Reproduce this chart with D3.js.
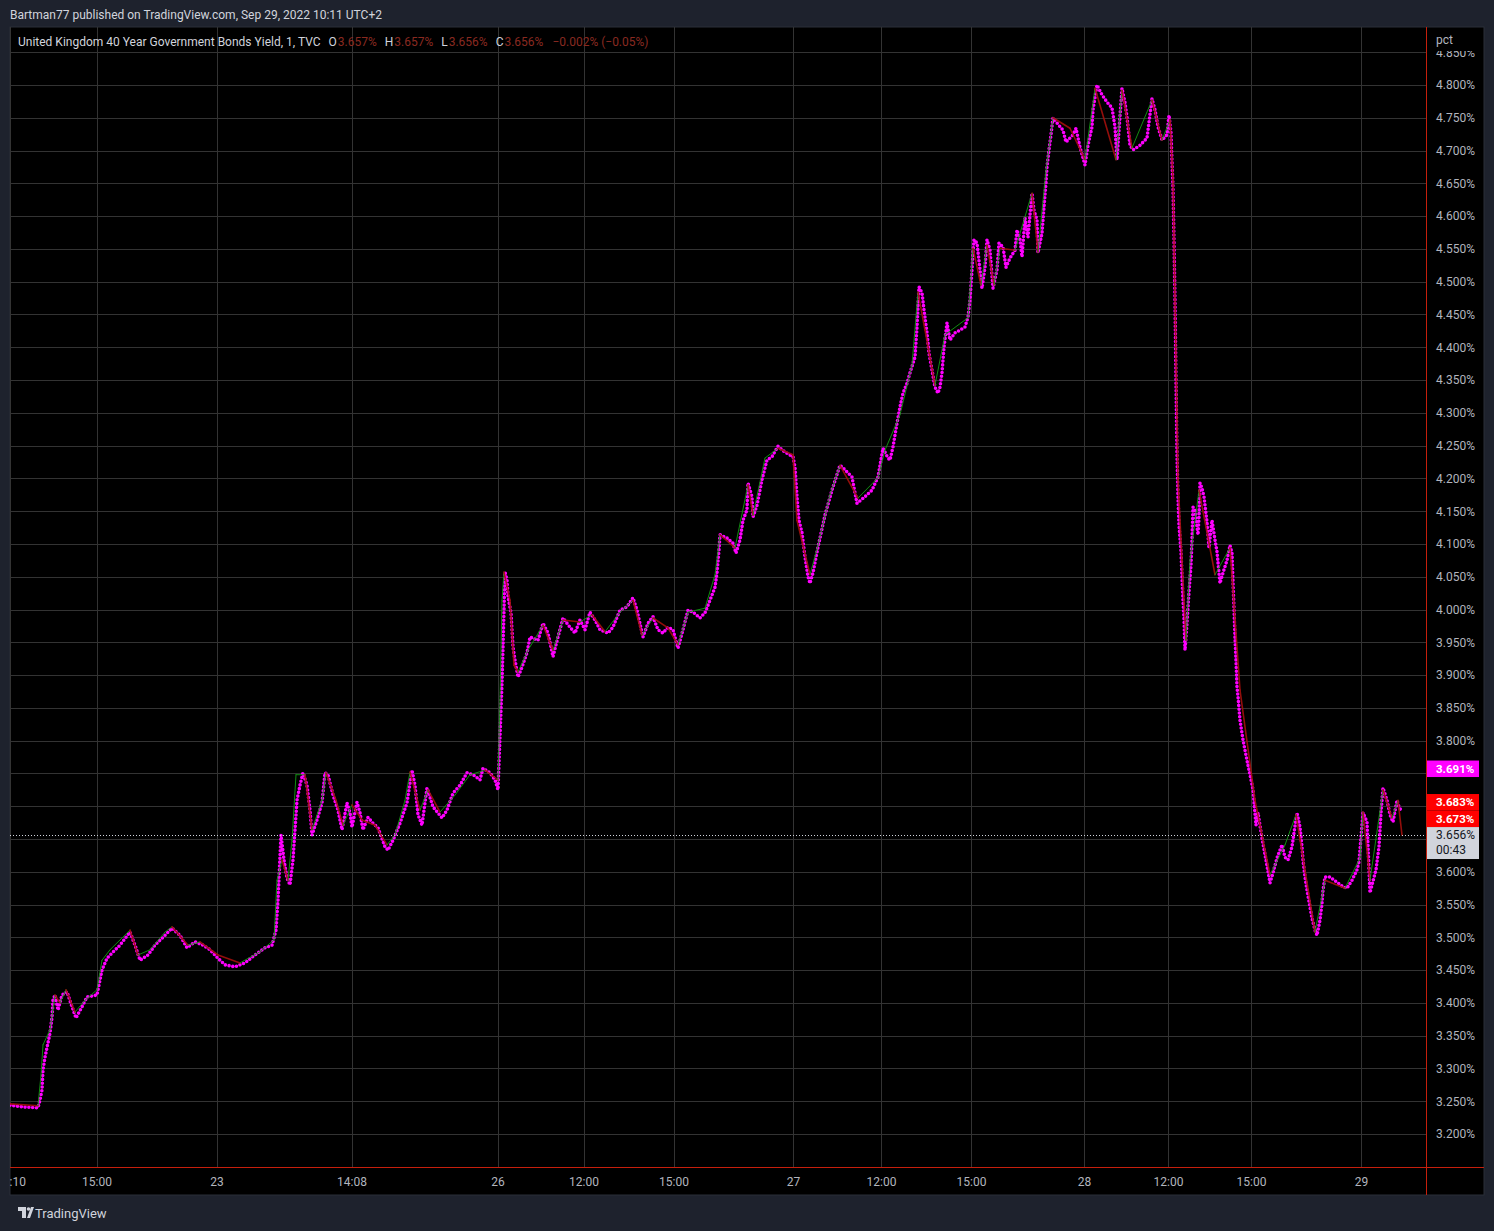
<!DOCTYPE html>
<html><head><meta charset="utf-8">
<script src="https://cdn.jsdelivr.net/npm/d3@7"></script>
<style>
html,body{margin:0;padding:0;background:#1e222d;}
svg{display:block;font-family:Roboto,"Liberation Sans",sans-serif;}
</style></head>
<body><svg id="chart" width="1494" height="1231"></svg>
<script>
// ---- data (minutes of trading time since Sep 22 12:10, yield in %) ----
const xTickMinutes = [0,173,413,683,975,1147,1327,1566,1742,1922,2148,2316,2482,2702];
const xTickLabels = [":10","15:00","23","14:08","26","12:00","15:00","27","12:00","15:00","28","12:00","15:00","29"];
const yTickValues = [3.20,3.25,3.30,3.35,3.40,3.45,3.50,3.55,3.60,3.65,3.70,3.75,3.80,3.85,3.90,3.95,4.00,4.05,4.10,4.15,4.20,4.25,4.30,4.35,4.40,4.45,4.50,4.55,4.60,4.65,4.70,4.75,4.80,4.85];

// magenta dotted indicator (parabolic-SAR-like dots)
const sarSeries = [
[0,3.244],[30,3.241],[56,3.240],[60,3.252],[64,3.267],[66,3.298],[70,3.317],[76,3.339],[80,3.354],[84,3.378],
[86,3.404],[90,3.412],[96,3.389],[104,3.412],[114,3.417],[124,3.394],[132,3.377],[144,3.394],[154,3.409],[174,3.412],
[184,3.450],[194,3.468],[204,3.476],[220,3.488],[240,3.508],[250,3.488],[260,3.465],[276,3.473],[290,3.488],[310,3.503],
[324,3.514],[340,3.503],[354,3.484],[370,3.493],[386,3.488],[400,3.481],[416,3.468],[430,3.458],[450,3.455],[470,3.461],
[490,3.473],[510,3.484],[524,3.488],[532,3.511],
[536,3.557],[542,3.656],[548,3.618],[554,3.590],[560,3.580],[566,3.618],[570,3.664],[574,3.709],[580,3.732],[586,3.751],
[594,3.732],[600,3.694],[604,3.656],[614,3.679],[624,3.705],[630,3.751],[636,3.748],[646,3.717],[656,3.694],[664,3.664],
[674,3.705],[680,3.690],[684,3.668],[694,3.706],[700,3.690],[706,3.664],[716,3.683],[726,3.674],[736,3.667],[750,3.638],
[756,3.633],[766,3.648],[780,3.674],[794,3.705],[804,3.755],[810,3.732],[816,3.687],[824,3.671],[834,3.728],[846,3.699],
[864,3.682],[874,3.694],[886,3.720],[900,3.732],[914,3.751],[926,3.748],[940,3.740],[946,3.758],[960,3.751],[970,3.740],
[976,3.725],
[984,3.888],[986,3.943],[988,3.999],[990,4.057],[994,4.045],[996,4.019],[1002,3.995],[1006,3.943],[1010,3.923],[1016,3.897],
[1024,3.912],[1034,3.934],[1040,3.958],[1056,3.953],[1066,3.979],[1076,3.964],[1086,3.928],[1096,3.958],[1106,3.987],[1120,3.973],
[1130,3.964],[1140,3.984],[1150,3.969],[1160,3.996],[1170,3.984],[1180,3.969],[1196,3.964],[1206,3.973],[1220,3.999],[1234,4.004],
[1246,4.018],[1254,3.999],[1266,3.958],[1276,3.979],[1286,3.989],[1296,3.969],[1306,3.964],[1316,3.973],[1326,3.969],[1336,3.941],
[1346,3.969],[1356,3.999],[1366,3.996],[1380,3.987],[1390,3.995],[1400,4.014],[1410,4.034],[1414,4.056],[1418,4.091],[1420,4.114],
[1434,4.109],[1446,4.101],[1452,4.086],[1460,4.106],[1466,4.136],[1474,4.152],[1476,4.193],[1484,4.172],[1486,4.141],[1494,4.159],
[1504,4.198],[1514,4.228],[1524,4.233],[1536,4.249],[1550,4.240],[1566,4.233],[1570,4.217],[1574,4.172],[1578,4.136],[1584,4.117],
[1590,4.080],[1596,4.050],[1600,4.040],[1606,4.056],[1616,4.095],
[1630,4.144],[1644,4.182],[1660,4.220],[1670,4.213],[1684,4.202],[1694,4.162],[1710,4.172],[1724,4.182],[1736,4.202],[1746,4.246],
[1756,4.231],[1760,4.228],[1766,4.248],[1774,4.284],[1780,4.309],[1786,4.330],[1794,4.345],[1800,4.361],[1810,4.385],[1814,4.431],
[1816,4.461],[1818,4.492],[1824,4.483],[1828,4.457],[1834,4.422],[1838,4.391],[1844,4.365],[1850,4.339],[1856,4.330],[1860,4.339],
[1864,4.361],[1868,4.400],[1874,4.437],[1880,4.411],[1890,4.422],[1900,4.426],[1910,4.431],[1916,4.446],[1920,4.472],[1924,4.518],
[1926,4.544],[1928,4.564],[1934,4.559],[1940,4.518],[1944,4.490],[1950,4.522],[1954,4.564],[1960,4.548],[1966,4.490],[1974,4.518],
[1978,4.559],[1986,4.553],[1992,4.522],[2000,4.536],[2010,4.548],[2014,4.579],[2020,4.564],[2024,4.538],[2030,4.597],[2036,4.568],
[2044,4.635],[2048,4.609],[2054,4.594],[2056,4.544],[2064,4.574],[2068,4.614],[2072,4.651],[2074,4.675],[2078,4.701],[2082,4.724],
[2086,4.750],
[2094,4.742],[2106,4.731],[2112,4.713],[2126,4.724],[2132,4.734],[2140,4.705],[2150,4.678],[2156,4.708],[2164,4.736],[2166,4.762],
[2174,4.800],[2184,4.785],[2194,4.774],[2204,4.765],[2210,4.736],[2214,4.686],[2218,4.731],[2224,4.795],[2230,4.773],[2234,4.751],
[2240,4.708],[2246,4.701],[2260,4.708],[2274,4.719],[2284,4.779],[2290,4.762],[2296,4.736],[2304,4.716],[2314,4.724],[2318,4.754],
[2322,4.727],[2324,4.683],[2326,4.643],[2328,4.564],[2330,4.472],[2332,4.350],[2334,4.236],
[2336,4.172],[2338,4.129],[2342,4.088],[2344,4.050],[2346,4.014],[2348,3.987],[2350,3.938],[2354,3.979],[2358,4.027],[2362,4.068],
[2364,4.106],[2366,4.156],[2370,4.152],[2374,4.126],[2376,4.114],[2378,4.141],[2380,4.193],[2384,4.185],[2388,4.172],[2394,4.133],
[2398,4.094],[2404,4.136],[2410,4.106],[2414,4.088],[2420,4.040],[2426,4.056],[2434,4.075],[2440,4.098],[2444,4.086],[2446,4.042],
[2448,4.002],[2450,3.957],[2452,3.923],[2454,3.882],[2456,3.867],[2460,3.831],[2466,3.801],[2474,3.770],[2480,3.748],[2486,3.725],
[2492,3.671],[2496,3.690],[2504,3.651],[2512,3.618],[2520,3.583],[2526,3.598],[2534,3.621],[2544,3.641],[2550,3.622],[2556,3.618],
[2564,3.638],[2568,3.659],[2574,3.690],[2580,3.668],[2584,3.638],[2586,3.618],[2590,3.592],[2594,3.572],[2600,3.546],[2604,3.529],
[2610,3.511],[2614,3.503],[2620,3.526],[2624,3.552],[2626,3.572],[2630,3.592],[2640,3.592],[2654,3.584],[2666,3.577],[2674,3.575],
[2684,3.587],[2694,3.603],[2698,3.615],[2706,3.690],[2714,3.676],[2720,3.568],[2732,3.603],[2738,3.638],[2742,3.690],[2746,3.728],
[2754,3.709],[2760,3.687],[2766,3.676],[2774,3.709],[2778,3.699],[2784,3.691]
];

// price path (1-minute closes, key turning points)
const priceSeries = [
[0,3.246],[56,3.243],[62,3.290],[66,3.336],[80,3.359],[90,3.412],[100,3.400],[112,3.420],[130,3.386],[150,3.404],
[174,3.420],[184,3.465],[200,3.481],[220,3.496],[240,3.511],[256,3.473],[280,3.481],[310,3.508],[324,3.516],[356,3.488],
[380,3.493],[416,3.473],[460,3.461],[500,3.478],[528,3.496],[534,3.587],[544,3.618],[556,3.587],[564,3.648],[572,3.748],
[590,3.748],[604,3.664],[624,3.709],[632,3.751],[652,3.709],[666,3.671],[684,3.702],[704,3.679],[730,3.671],[754,3.641],
[770,3.656],[790,3.709],[800,3.752],[820,3.694],[836,3.725],[860,3.691],[890,3.717],[920,3.748],[950,3.755],[976,3.740],
[980,3.862],[984,4.014],[988,4.057],[1000,4.014],[1008,3.915],[1016,3.905],[1036,3.938],[1066,3.976],[1086,3.938],[1106,3.984],
[1140,3.981],[1164,3.992],[1190,3.966],[1220,3.996],[1246,4.014],[1264,3.961],[1286,3.987],[1316,3.972],[1336,3.946],[1356,3.996],
[1390,4.002],[1410,4.053],[1420,4.114],[1450,4.094],[1476,4.190],[1486,4.144],[1510,4.231],[1536,4.246],[1566,4.236],[1574,4.136],
[1600,4.053],[1616,4.098],[1640,4.175],[1660,4.220],[1696,4.170],[1736,4.201],[1750,4.243],[1780,4.297],[1804,4.373],[1816,4.484],
[1830,4.426],[1850,4.342],[1870,4.419],[1916,4.445],[1926,4.551],[1942,4.495],[1954,4.556],[1968,4.495],[1980,4.551],[2010,4.548],
[2044,4.635],[2056,4.545],[2072,4.670],[2086,4.750],[2120,4.734],[2150,4.686],[2170,4.795],[2212,4.686],[2224,4.792],[2244,4.704],
[2284,4.777],[2304,4.716],[2320,4.747],[2326,4.655],[2336,4.198],[2344,4.075],[2352,3.953],[2360,4.075],[2378,4.182],[2410,4.053],
[2440,4.094],[2460,3.877],[2490,3.709],[2520,3.595],[2550,3.641],[2572,3.687],[2610,3.508],[2630,3.587],[2670,3.575],[2700,3.621],
[2706,3.691],[2720,3.587],[2746,3.725],[2764,3.682],[2776,3.709],[2784,3.656]
];

const lastPrice = 3.656;
const lastPriceLabels = ["3.656%","00:43"];
const tagValues = [3.691, 3.683, 3.673];
const tagColors = ["#ff00ff","#ff0000","#ff0000"];
const legendTitle = "United Kingdom 40 Year Government Bonds Yield, 1, TVC";
const legendKeys = ["O","H","L","C"];
const legendVals = ["3.657%","3.657%","3.656%","3.656%"];
const legendChange = "\u22120.002% (\u22120.05%)";
const headerText = "Bartman77 published on TradingView.com, Sep 29, 2022 10:11 UTC+2";

// ---- layout ----
const W = 1494, H = 1231;
const panel = {l:10, t:27, r:1484, b:1195};
const plotR = 1426, plotB = 1167;
const gridColor = "#333333", textColor = "#b2b5be", axisRed = "#c61f0c";

const svg = d3.select("#chart");
const x = d3.scaleLinear().domain([0, 2832]).range([panel.l, plotR]);
const y = d3.scaleLinear().domain([3.2, 4.8]).range([1134, 85]);

svg.append("rect").attr("width", W).attr("height", H).attr("fill", "#1e222d");
svg.append("text").attr("x", 10).attr("y", 18.5).attr("fill", "#d1d4dc")
  .attr("font-size", 12).text(headerText);

svg.append("rect").attr("x", panel.l).attr("y", panel.t)
  .attr("width", panel.r - panel.l).attr("height", panel.b - panel.t)
  .attr("fill", "#000").attr("stroke", "#2a2e39").attr("stroke-width", 1);

const defs = svg.append("defs");
defs.append("clipPath").attr("id", "plotClip").append("rect")
  .attr("x", panel.l).attr("y", panel.t).attr("width", plotR - panel.l).attr("height", plotB - panel.t);
defs.append("clipPath").attr("id", "yAxisClip").append("rect")
  .attr("x", plotR).attr("y", 51).attr("width", panel.r - plotR).attr("height", plotB - 51);

const plot = svg.append("g").attr("clip-path", "url(#plotClip)");

// grid
plot.append("g").selectAll("line").data(yTickValues).join("line")
  .attr("x1", panel.l).attr("x2", plotR)
  .attr("y1", d => Math.round(y(d)) + 0.5).attr("y2", d => Math.round(y(d)) + 0.5)
  .attr("stroke", gridColor).attr("stroke-width", 1);
plot.append("g").selectAll("line").data(xTickMinutes).join("line")
  .attr("y1", panel.t).attr("y2", plotB)
  .attr("x1", d => Math.round(x(d)) + 0.5).attr("x2", d => Math.round(x(d)) + 0.5)
  .attr("stroke", gridColor).attr("stroke-width", 1);

// magenta dots
const line = d3.line().x(d => x(d[0])).y(d => y(d[1]));
plot.append("path").attr("d", line(sarSeries))
  .attr("fill", "none").attr("stroke", "#ff00ff").attr("stroke-width", 3.6)
  .attr("stroke-linecap", "round").attr("stroke-dasharray", "0 3.8");

// price segments (green up, red down) drawn over the dots
plot.append("g").selectAll("line").data(d3.pairs(priceSeries)).join("line")
  .attr("x1", d => x(d[0][0])).attr("y1", d => y(d[0][1]))
  .attr("x2", d => x(d[1][0])).attr("y2", d => y(d[1][1]))
  .attr("stroke", d => d[1][1] >= d[0][1] ? "#139a13" : "#a3100c")
  .attr("stroke-width", d => d[1][1] >= d[0][1] ? 1 : 1.6)
  .attr("stroke-opacity", 0.9)
  .attr("stroke-linecap", "round");

// last price dotted line
plot.append("line").attr("x1", panel.l).attr("x2", plotR)
  .attr("y1", Math.round(y(lastPrice)) + 0.5).attr("y2", Math.round(y(lastPrice)) + 0.5)
  .attr("stroke", "#d1d4dc").attr("stroke-width", 1).attr("stroke-dasharray", "1 2");

// axis border lines
svg.append("line").attr("x1", plotR + 0.5).attr("x2", plotR + 0.5).attr("y1", panel.t).attr("y2", panel.b)
  .attr("stroke", axisRed).attr("stroke-width", 1);
svg.append("line").attr("x1", panel.l).attr("x2", panel.r).attr("y1", plotB + 0.5).attr("y2", plotB + 0.5)
  .attr("stroke", axisRed).attr("stroke-width", 1);

// price tags positions (stacked upward from last price tag)
const tagW = 52, tagH = 16.5;
const lastY = y(lastPrice);
const lastTop = lastY - 8, lastH = 32;
let limit = lastTop;
const tagPos = [];
for (let i = tagValues.length - 1; i >= 0; i--) {
  let cy = Math.min(y(tagValues[i]), limit - tagH / 2);
  if (i === 0) cy -= 17;
  tagPos[i] = cy;
  limit = cy - tagH / 2;
}
const covered = tagPos.map(c => [c - tagH / 2, c + tagH / 2]).concat([[lastTop, lastTop + lastH]]);
const isCovered = v => covered.some(r => y(v) + 6 > r[0] && y(v) - 6 < r[1]);

// y axis (labels hidden where a price tag covers them)
const yAxis = d3.axisRight(y).tickValues(yTickValues.filter(v => !isCovered(v)))
  .tickSize(0).tickPadding(10).tickFormat(d => d.toFixed(3) + "%");
const yWrap = svg.append("g").attr("clip-path", "url(#yAxisClip)");
const yg = yWrap.append("g").attr("transform", `translate(${plotR},0)`).call(yAxis);
yg.select(".domain").remove();
yg.selectAll("text").attr("fill", textColor).attr("font-size", 12).attr("font-family", "Roboto,sans-serif");
svg.append("text").attr("x", 1436).attr("y", 44).attr("fill", textColor).attr("font-size", 12).text("pct");

// x axis
const xAxis = d3.axisBottom(x).tickValues(xTickMinutes).tickSize(0).tickPadding(10)
  .tickFormat((d, i) => xTickLabels[i]);
const xg = svg.append("g").attr("transform", `translate(0,${plotB})`).call(xAxis);
xg.select(".domain").remove();
xg.selectAll("text").attr("fill", textColor).attr("font-size", 12).attr("font-family", "Roboto,sans-serif")
  .attr("text-anchor", (d, i) => i === 0 ? "start" : "middle")
  .attr("dx", (d, i) => i === 0 ? -1 : 0);

// tags
svg.append("rect").attr("x", plotR + 1).attr("y", lastTop).attr("width", tagW).attr("height", lastH)
  .attr("fill", "#d1d4dc");
svg.selectAll("text.last").data(lastPriceLabels).join("text").attr("class", "last")
  .attr("x", 1436).attr("y", (d, i) => lastY + 4 + i * 15).attr("font-size", 12)
  .attr("fill", "#131722").text(d => d);
const tags = svg.selectAll("g.tag").data(tagValues).join("g").attr("class", "tag")
  .attr("transform", (d, i) => `translate(${plotR + 1},${tagPos[i]})`);
tags.append("rect").attr("x", 0).attr("y", -tagH / 2).attr("width", tagW).attr("height", tagH)
  .attr("fill", (d, i) => tagColors[i]);
tags.append("text").attr("x", 9).attr("y", 4).attr("font-size", 11.5).attr("font-weight", "bold")
  .attr("fill", "#fff").text(d => d.toFixed(3) + "%");

// legend
const lg = svg.append("text").attr("x", 18).attr("y", 45.5).attr("font-size", 12).attr("fill", "#d1d4dc");
lg.append("tspan").text(legendTitle);
legendKeys.forEach((k, i) => {
  lg.append("tspan").attr("dx", 8).attr("fill", "#d1d4dc").text(k);
  lg.append("tspan").attr("dx", 1).attr("fill", "#8a2a20").text(legendVals[i]);
});
lg.append("tspan").attr("dx", 9).attr("fill", "#8a2a20").text(legendChange);

// TradingView logo
const logo = svg.append("g").attr("fill", "#d1d4dc");
logo.append("path").attr("d", "M18 1207h8v11h-4v-7h-4z");
logo.append("circle").attr("cx", 28.5).attr("cy", 1209).attr("r", 1.8);
logo.append("path").attr("d", "M27 1218l4-11h3l-4 11z");
svg.append("text").attr("x", 35).attr("y", 1217.5).attr("font-size", 13).attr("fill", "#d1d4dc").text("TradingView");
</script>
</body></html>
